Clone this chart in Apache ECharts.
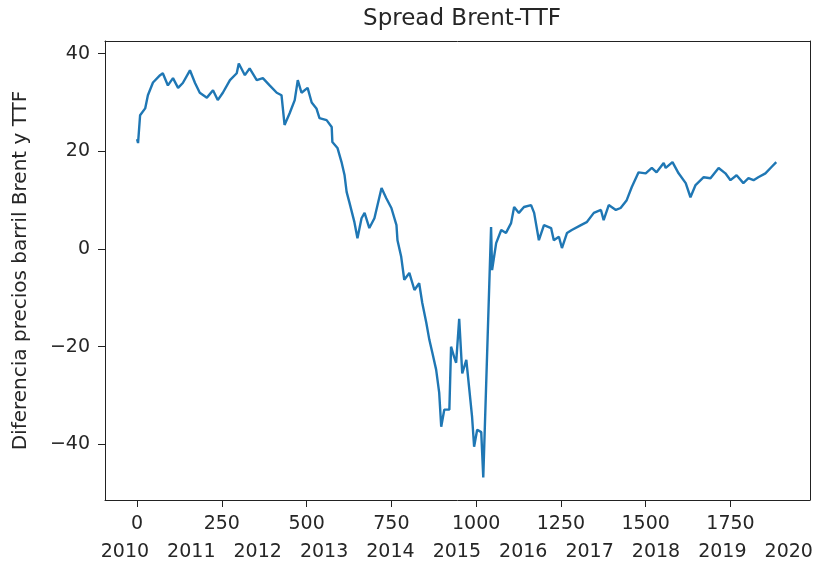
<!DOCTYPE html>
<html>
<head>
<meta charset="utf-8">
<script src="https://cdn.jsdelivr.net/npm/echarts@6/dist/echarts.min.js"></script>
<style>
  html, body { margin: 0; padding: 0; background: #fff; }
  #chart { width: 820px; height: 566px; }
</style>
</head>
<body>
<div id="chart"></div>
<script>
// dias desde el inicio de la serie
var dias = [0, 3, 9, 24, 32, 47, 68, 76, 91, 106, 121, 135, 156, 171, 185, 206, 224, 238, 253, 274,
    294, 300, 318, 332, 353, 371, 391, 412, 426, 435, 450, 465, 474, 485, 503, 515, 529, 538, 559, 574,
    576, 591, 603, 612, 618, 626, 641, 650, 662, 671, 685, 700, 721, 735, 750, 765, 768, 779, 788, 803,
    818, 832, 841, 853, 862, 871, 882, 891, 897, 906, 921, 926, 935, 941, 950, 959, 971, 979, 988, 994,
    1003, 1015, 1021, 1044, 1047, 1059, 1074, 1088, 1103, 1112, 1126, 1141, 1162, 1171, 1185, 1200, 1221, 1229, 1244, 1253,
    1268, 1282, 1309, 1326, 1347, 1368, 1376, 1391, 1412, 1426, 1444, 1459, 1479, 1500, 1518, 1532, 1553, 1559, 1579, 1597,
    1618, 1632, 1647, 1671, 1691, 1715, 1735, 1750, 1768, 1788, 1803, 1818, 1832, 1853, 1871, 1885];
// spread Brent - TTF
var spread = [22.5, 21.7, 27.4, 28.8, 31.5, 34.1, 35.6, 36, 33.5, 35, 33, 34, 36.6, 34, 32, 31, 32.5, 30.5, 32, 34.6,
    36, 38, 35.6, 37, 34.6, 35, 33.5, 32, 31.5, 25.4, 27.8, 30.5, 34.6, 32, 33, 30, 28.8, 26.8, 26.4, 25,
    21.9, 20.7, 17.8, 15.1, 11.7, 9.6, 5.5, 2.2, 6.3, 7.4, 4.3, 6.3, 12.5, 10.4, 8.4, 4.9, 1.8, -1.6, -6.3, -4.9,
    -8.4, -7, -11, -15.1, -18.6, -21.3, -24.7, -29.4, -36.4, -32.9, -32.9, -20, -22.1, -23.3, -14.3, -25.5, -22.7, -28.2, -34.4, -40.5,
    -37, -37.5, -46.8, 4.5, -4.3, 1.2, 3.9, 3.3, 5.3, 8.6, 7.4, 8.6, 9, 7.4, 1.8, 4.9, 4.3, 1.8, 2.5, 0.2,
    3.3, 3.9, 4.9, 5.5, 7.4, 8, 5.9, 9, 8, 8.4, 10, 12.7, 15.7, 15.5, 16.6, 15.7, 17.6, 16.6, 17.8, 15.5,
    13.5, 10.6, 13.1, 14.7, 14.5, 16.6, 15.5, 14.1, 15.1, 13.5, 14.5, 14.1, 14.7, 15.5, 16.8, 17.8];
var ticksX = [0, 250, 500, 750, 1000, 1250, 1500, 1750];
var ticksY = [-40, -20, 0, 20, 40];
var anios = [2010, 2011, 2012, 2013, 2014, 2015, 2016, 2017, 2018, 2019, 2020];

var puntos = [];
for (var i = 0; i < dias.length; i++) {
    puntos.push([dias[i], spread[i]]);
}

var fuente = 'DejaVu Sans';
var colorTexto = '#262626';
var colorEje = '#222';

// eje solo para cerrar el marco (arriba / derecha)
function ejeMarco(extra) {
    var eje = {
        type: 'value',
        axisLine: { show: true, onZero: false, lineStyle: { color: colorEje, width: 1 } },
        axisTick: { show: false },
        axisLabel: { show: false },
        splitLine: { show: false }
    };
    for (var k in extra) eje[k] = extra[k];
    return eje;
}

var chart = echarts.init(document.getElementById('chart'));
var option = {
    animation: false,
    backgroundColor: '#fff',
    title: {
        text: 'Spread Brent-TTF',
        left: 457,
        top: 3,
        textAlign: 'center',
        textStyle: { fontFamily: fuente, fontSize: 23, fontWeight: 'normal', color: colorTexto }
    },
    grid: { left: 105, right: 10, top: 41, bottom: 66 },
    xAxis: [{
        type: 'value',
        position: 'bottom',
        min: -94.5,
        max: 1984.5,
        axisLine: { show: true, onZero: false, lineStyle: { color: colorEje, width: 1 } },
        splitLine: { show: false },
        axisTick: { show: true, length: 7, customValues: ticksX, lineStyle: { color: colorEje, width: 1 } },
        axisLabel: {
            customValues: ticksX, margin: 15,
            fontFamily: fuente, fontSize: 19, color: colorTexto,
            formatter: function (v) { return String(v); }
        }
    }, ejeMarco({ position: 'top', min: 0, max: 1 }), {
        // segunda fila de etiquetas: anios
        type: 'value',
        position: 'bottom',
        min: 2009.7,
        max: 2020.32,
        axisLine: { show: false, onZero: false },
        splitLine: { show: false },
        axisTick: { show: false },
        axisLabel: {
            customValues: anios, margin: 43,
            fontFamily: fuente, fontSize: 19, color: colorTexto,
            formatter: function (v) { return String(v); }
        }
    }],
    yAxis: [{
        type: 'value',
        position: 'left',
        min: -51.4,
        max: 42.6,
        name: 'Diferencia precios barril Brent y TTF',
        nameLocation: 'middle',
        nameGap: 74,
        nameTextStyle: { fontFamily: fuente, fontSize: 20, color: colorTexto },
        axisLine: { show: true, onZero: false, lineStyle: { color: colorEje, width: 1 } },
        splitLine: { show: false },
        axisTick: { show: true, length: 7, customValues: ticksY, lineStyle: { color: colorEje, width: 1 } },
        axisLabel: {
            customValues: ticksY, margin: 15,
            fontFamily: fuente, fontSize: 19, color: colorTexto,
            formatter: function (v) {
                return v < 0 ? '\u2212' + Math.abs(v) : String(v);
            }
        }
    }, ejeMarco({ position: 'right', min: 0, max: 1 })],
    series: [{
        type: 'line',
        xAxisIndex: 0,
        yAxisIndex: 0,
        data: puntos,
        showSymbol: false,
        lineStyle: { color: '#1f77b4', width: 2.4 },
        z: 3
    }]
};
chart.setOption(option);
</script>
</body>
</html>
